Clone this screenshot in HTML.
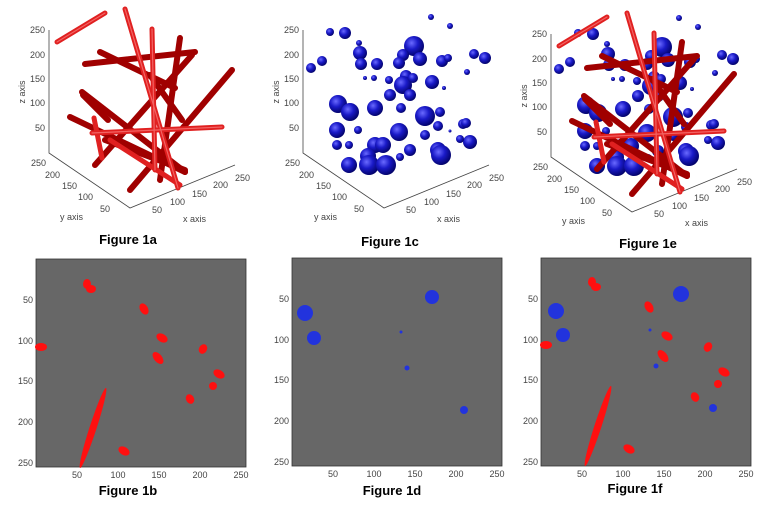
<!DOCTYPE html>
<html><head><meta charset="utf-8"><style>
html,body{margin:0;padding:0;background:#fff;}
svg{display:block;font-family:"Liberation Sans",sans-serif;}
.t{font-size:9px;fill:#444;}
.cap{font-size:13px;font-weight:bold;fill:#000;font-family:"Liberation Sans",sans-serif;}
</style></head><body>
<svg width="778" height="522" viewBox="0 0 778 522">
<defs>
<radialGradient id="sph" cx="0.38" cy="0.35" r="0.7">
<stop offset="0" stop-color="#6a6aff"/><stop offset="0.45" stop-color="#1a1ac8"/><stop offset="1" stop-color="#000060"/>
</radialGradient>
<g id="rods" stroke-linecap="round">
<g stroke="#a00000" stroke-width="6">
<line x1="85" y1="64" x2="195" y2="52"/>
<line x1="100" y1="52" x2="175" y2="88"/>
<line x1="232" y1="70" x2="130" y2="190"/>
<line x1="192" y1="55" x2="95" y2="165"/>
<line x1="150" y1="75" x2="182" y2="120"/>
<line x1="82" y1="92" x2="185" y2="172"/>
<line x1="70" y1="117" x2="185" y2="172"/>
<line x1="83" y1="95" x2="108" y2="120"/>
<line x1="105" y1="140" x2="185" y2="170"/>
<line x1="180" y1="38" x2="160" y2="180"/>
</g>
<g stroke="#e02020" stroke-width="5">
<line x1="125" y1="9" x2="178" y2="188"/>
<line x1="152" y1="29" x2="155" y2="170"/>
<line x1="57" y1="42" x2="105" y2="13"/>
<line x1="92" y1="133" x2="222" y2="127"/>
<line x1="94" y1="118" x2="102" y2="158"/>
<line x1="110" y1="140" x2="180" y2="185"/>
</g>
<g stroke="#ff9090" stroke-width="1.2" opacity="0.6">
<line x1="125" y1="9" x2="178" y2="188"/>
<line x1="152" y1="29" x2="155" y2="170"/>
<line x1="57" y1="42" x2="105" y2="13"/>
<line x1="92" y1="133" x2="222" y2="127"/>
</g>
</g>
<g id="sphs" fill="url(#sph)">
<circle cx="70" cy="32" r="4"/><circle cx="85" cy="33" r="6"/><circle cx="99" cy="43" r="3"/><circle cx="100" cy="53" r="7"/><circle cx="101" cy="64" r="6"/><circle cx="117" cy="64" r="6"/><circle cx="51" cy="68" r="5"/><circle cx="62" cy="61" r="5"/><circle cx="154" cy="46" r="10"/><circle cx="143" cy="55" r="6"/><circle cx="160" cy="59" r="7"/><circle cx="139" cy="63" r="6"/><circle cx="146" cy="76" r="6"/><circle cx="143" cy="85" r="9"/><circle cx="153" cy="78" r="5"/><circle cx="172" cy="82" r="7"/><circle cx="182" cy="61" r="6"/><circle cx="188" cy="58" r="4"/><circle cx="214" cy="54" r="5"/><circle cx="225" cy="58" r="6"/><circle cx="129" cy="80" r="4"/><circle cx="130" cy="95" r="6"/><circle cx="150" cy="95" r="6"/><circle cx="78" cy="104" r="9"/><circle cx="90" cy="112" r="9"/><circle cx="115" cy="108" r="8"/><circle cx="141" cy="108" r="5"/><circle cx="165" cy="116" r="10"/><circle cx="180" cy="112" r="5"/><circle cx="139" cy="132" r="9"/><circle cx="165" cy="135" r="5"/><circle cx="178" cy="126" r="5"/><circle cx="203" cy="124" r="5"/><circle cx="77" cy="130" r="8"/><circle cx="98" cy="130" r="4"/><circle cx="77" cy="145" r="5"/><circle cx="89" cy="145" r="4"/><circle cx="115" cy="145" r="8"/><circle cx="123" cy="145" r="8"/><circle cx="108" cy="156" r="8"/><circle cx="150" cy="150" r="6"/><circle cx="140" cy="157" r="4"/><circle cx="178" cy="150" r="8"/><circle cx="181" cy="155" r="10"/><circle cx="89" cy="165" r="8"/><circle cx="109" cy="165" r="10"/><circle cx="126" cy="165" r="10"/><circle cx="210" cy="142" r="7"/><circle cx="200" cy="139" r="4"/><circle cx="206" cy="123" r="5"/><circle cx="171" cy="17" r="3"/><circle cx="190" cy="26" r="3"/><circle cx="207" cy="72" r="3"/><circle cx="105" cy="78" r="2"/><circle cx="114" cy="78" r="3"/><circle cx="184" cy="88" r="2"/><circle cx="190" cy="131" r="1.5"/>
</g>
<g id="ax3">
<g stroke="#444" stroke-width="0.8" fill="none">
<polyline points="49,30 49,153 130,208 235,165"/>
</g>
<text class="t" x="45" y="33" text-anchor="end">250</text>
<text class="t" x="45" y="58" text-anchor="end">200</text>
<text class="t" x="45" y="82" text-anchor="end">150</text>
<text class="t" x="45" y="106" text-anchor="end">100</text>
<text class="t" x="45" y="131" text-anchor="end">50</text>
<text class="t" x="25" y="92" transform="rotate(-90 25 92)" text-anchor="middle" font-size="10">z axis</text>
<text class="t" x="31" y="166">250</text><text class="t" x="45" y="178">200</text><text class="t" x="62" y="189">150</text><text class="t" x="78" y="200">100</text><text class="t" x="100" y="212">50</text>
<text class="t" x="60" y="220" font-size="10">y axis</text>
<text class="t" x="152" y="213">50</text><text class="t" x="170" y="205">100</text><text class="t" x="192" y="197">150</text><text class="t" x="213" y="188">200</text><text class="t" x="235" y="181">250</text>
<text class="t" x="183" y="222" font-size="10">x axis</text>
</g>
<g id="ax2">
<rect x="0" y="0" width="210" height="208" fill="#676767" stroke="#333" stroke-width="0.8"/>
<text class="t" x="-3" y="44" text-anchor="end">50</text><text class="t" x="-3" y="85" text-anchor="end">100</text><text class="t" x="-3" y="125" text-anchor="end">150</text><text class="t" x="-3" y="166" text-anchor="end">200</text><text class="t" x="-3" y="207" text-anchor="end">250</text>
<text class="t" x="41" y="219" text-anchor="middle">50</text><text class="t" x="82" y="219" text-anchor="middle">100</text><text class="t" x="123" y="219" text-anchor="middle">150</text><text class="t" x="164" y="219" text-anchor="middle">200</text><text class="t" x="205" y="219" text-anchor="middle">250</text>
</g>
<g id="reds" fill="#ff1010">
<ellipse cx="87" cy="284" rx="4" ry="5"/><ellipse cx="91" cy="289" rx="5" ry="4"/><ellipse cx="144" cy="309" rx="4" ry="6" transform="rotate(-30 144 309)"/><ellipse cx="162" cy="338" rx="6" ry="4" transform="rotate(30 162 338)"/><ellipse cx="41" cy="347" rx="6" ry="4"/><ellipse cx="158" cy="358" rx="4" ry="7" transform="rotate(-40 158 358)"/><ellipse cx="203" cy="349" rx="4" ry="5" transform="rotate(30 203 349)"/><ellipse cx="219" cy="374" rx="6" ry="4" transform="rotate(30 219 374)"/><ellipse cx="213" cy="386" rx="4" ry="4"/><ellipse cx="190" cy="399" rx="4" ry="5" transform="rotate(-30 190 399)"/><ellipse cx="124" cy="451" rx="6" ry="4" transform="rotate(30 124 451)"/>
<ellipse cx="93" cy="428" rx="3.5" ry="42" transform="rotate(18 93 428)"/>
</g>
</defs>

<use href="#ax3"/>
<use href="#rods"/>
<text class="cap" x="128" y="244" text-anchor="middle">Figure 1a</text>

<g transform="translate(254,0)"><use href="#ax3"/></g>
<g transform="translate(260,0)"><use href="#sphs"/></g>
<text class="cap" x="390" y="246" text-anchor="middle">Figure 1c</text>

<g transform="translate(502,4)"><use href="#ax3"/></g>
<g transform="translate(508,1)"><use href="#sphs"/></g>
<g transform="translate(502,4)"><use href="#rods"/></g>
<text class="cap" x="648" y="248" text-anchor="middle">Figure 1e</text>

<g transform="translate(36,259)"><use href="#ax2"/></g>
<use href="#reds"/>
<text class="cap" x="128" y="495" text-anchor="middle">Figure 1b</text>

<g transform="translate(292,258)"><use href="#ax2"/></g>
<g fill="#2233dd">
<circle cx="305" cy="313" r="8"/><circle cx="314" cy="338" r="7"/><circle cx="432" cy="297" r="7"/><circle cx="401" cy="332" r="1.5"/><circle cx="407" cy="368" r="2.5"/><circle cx="464" cy="410" r="4"/>
</g>
<text class="cap" x="392" y="495" text-anchor="middle">Figure 1d</text>

<g transform="translate(541,258)"><use href="#ax2"/></g>
<g fill="#2233dd">
<circle cx="556" cy="311" r="8"/><circle cx="563" cy="335" r="7"/><circle cx="681" cy="294" r="8"/><circle cx="650" cy="330" r="1.5"/><circle cx="656" cy="366" r="2.5"/><circle cx="713" cy="408" r="4"/>
</g>
<g transform="translate(505,-2)"><use href="#reds"/></g>
<text class="cap" x="635" y="493" text-anchor="middle">Figure 1f</text>
</svg>
</body></html>
